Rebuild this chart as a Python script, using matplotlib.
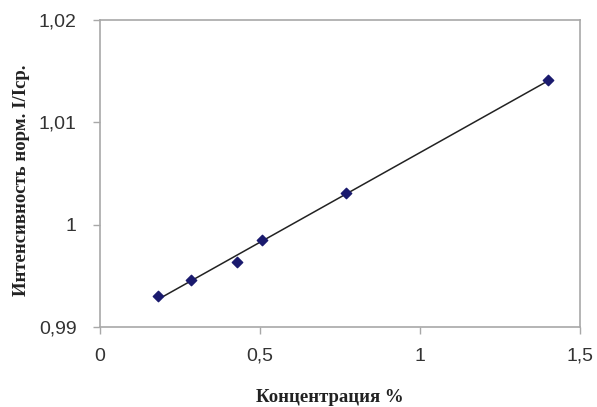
import numpy as np
import matplotlib
matplotlib.use("Agg")
import matplotlib.pyplot as plt
from matplotlib.ticker import FuncFormatter

# Data
concentration = [0.181, 0.284, 0.428, 0.506, 0.769, 1.400]
intensity = [0.9930, 0.9946, 0.99635, 0.9985, 1.0031, 1.0141]

xticks = [0, 0.5, 1, 1.5]
yticks = [0.99, 1.0, 1.01, 1.02]
xlabel = "Концентрация %"
ylabel = "Интенсивность норм. I/Iср."

fig = plt.figure(figsize=(5.97, 4.07), dpi=100)
ax = fig.add_axes([100/597, 1 - 327/407, 480/597, 307/407])

# Linear trend line through the data
k, b = np.polyfit(concentration, intensity, 1)
xs = np.array([min(concentration), max(concentration)])
ax.plot(xs, k * xs + b, color="#222222", lw=1.1, zorder=2)

ax.scatter(concentration, intensity, marker="D", s=28, color="#1a1a6e",
           edgecolors="#1a1a6e", zorder=3)

ax.set_xlim(0, 1.5)
ax.set_ylim(0.99, 1.02)
ax.set_xticks(xticks)
ax.set_yticks(yticks)

def fmt(v, pos):
    s = ("%.2f" % v).rstrip("0").rstrip(".")
    return s.replace(".", ",")

ax.xaxis.set_major_formatter(FuncFormatter(fmt))
ax.yaxis.set_major_formatter(FuncFormatter(fmt))

for sp in ax.spines.values():
    sp.set_color("#a8a8a8")
    sp.set_linewidth(1.2)

ax.tick_params(axis="both", colors="#a8a8a8", length=5, width=1,
               labelcolor="#333333", labelsize=14)
ax.tick_params(axis="y", pad=12)
ax.tick_params(axis="x", pad=10)
for lbl in ax.get_xticklabels() + ax.get_yticklabels():
    lbl.set_fontfamily("Liberation Sans")

fig.text(330/597, 1 - 397/407, xlabel, fontfamily="Liberation Serif",
         fontweight="bold", fontsize=13.5, color="#222222",
         ha="center", va="center")
fig.text(22/597, 1 - 180/407, ylabel, fontfamily="Liberation Serif",
         fontweight="bold", fontsize=13.5, color="#222222",
         ha="center", va="center", rotation=90)

fig.savefig("out.png", dpi=100)
